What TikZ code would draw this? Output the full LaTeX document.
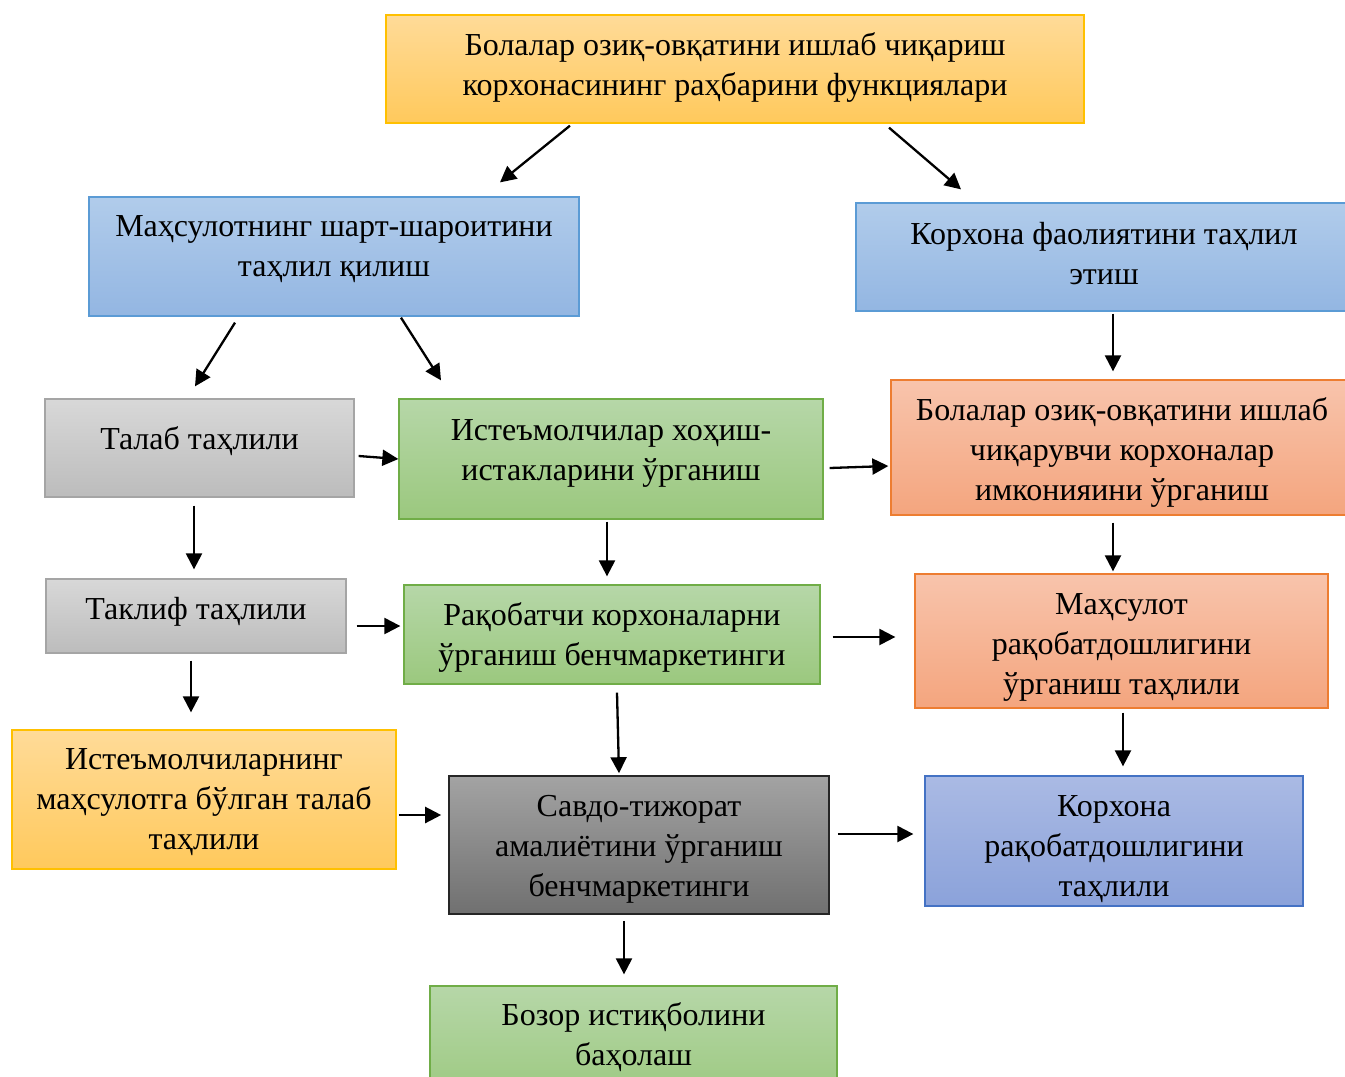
\documentclass[tikz,border=0pt]{standalone}
\usepackage{fontspec}
\setmainfont{Liberation Serif}
\usetikzlibrary{arrows.meta,calc}

\definecolor{orTop}{HTML}{FFDB98}
\definecolor{orBot}{HTML}{FFC95C}
\definecolor{orLine}{HTML}{FFC000}
\definecolor{blTop}{HTML}{B1CCEB}
\definecolor{blBot}{HTML}{93B6E2}
\definecolor{blLine}{HTML}{5B9BD5}
\definecolor{grTop}{HTML}{D8D8D8}
\definecolor{grBot}{HTML}{BCBCBC}
\definecolor{grLine}{HTML}{A5A5A5}
\definecolor{gnTop}{HTML}{B6D7A8}
\definecolor{gnBot}{HTML}{9BC87E}
\definecolor{gnLine}{HTML}{70AD47}
\definecolor{saTop}{HTML}{F8C4AC}
\definecolor{saBot}{HTML}{F4A57E}
\definecolor{saLine}{HTML}{ED7D31}
\definecolor{dgTop}{HTML}{A3A3A3}
\definecolor{dgBot}{HTML}{707070}
\definecolor{dgLine}{HTML}{262626}
\definecolor{pbTop}{HTML}{AABAE4}
\definecolor{pbBot}{HTML}{8BA2DA}
\definecolor{pbLine}{HTML}{4472C4}

\tikzset{
  x=1pt, y=-1pt,
  box/.style={rectangle, inner sep=0pt, line width=1.3pt},
  txt/.style={align=center, inner sep=0pt, text=black,
    font=\fontsize{32}{40}\selectfont},
  orbox/.style={box, top color=orTop, bottom color=orBot, draw=orLine},
  blbox/.style={box, top color=blTop, bottom color=blBot, draw=blLine},
  grbox/.style={box, top color=grTop, bottom color=grBot, draw=grLine},
  gnbox/.style={box, top color=gnTop, bottom color=gnBot, draw=gnLine},
  sabox/.style={box, top color=saTop, bottom color=saBot, draw=saLine},
  dgbox/.style={box, top color=dgTop, bottom color=dgBot, draw=dgLine, line width=1.6pt},
  pbbox/.style={box, top color=pbTop, bottom color=pbBot, draw=pbLine},
  wh/.style 2 args={minimum width=#1, minimum height=#2},
  arr/.style={line width=2.3pt, -{Triangle[length=16pt,width=16pt]}},
}

\begin{document}
\begin{tikzpicture}
\useasboundingbox[fill=white] (0,0) rectangle (1345,1077);

% boxes
\node[orbox, wh={698pt}{108pt}] (top) at (735,69) {};
\node[blbox, wh={490pt}{119pt}] (mah) at (334,256.5) {};
\node[blbox, wh={496pt}{108pt}] (kor) at (1104,257) {};
\node[grbox, wh={309pt}{98pt}]  (tal) at (199.5,448) {};
\node[gnbox, wh={424pt}{120pt}] (ist) at (611,459) {};
\node[sabox, wh={462pt}{135pt}] (sal) at (1122,447.5) {};
\node[grbox, wh={300pt}{74pt}]  (tak) at (196,616) {};
\node[gnbox, wh={416pt}{99pt}]  (raq) at (612,634.5) {};
\node[sabox, wh={413pt}{134pt}] (mhs) at (1121.5,641) {};
\node[orbox, wh={384pt}{139pt}] (ism) at (204,799.5) {};
\node[dgbox, wh={380pt}{138pt}] (sav) at (639,845) {};
\node[pbbox, wh={378pt}{130pt}] (krr) at (1114,841) {};
\node[gnbox, wh={407pt}{119pt}] (boz) at (633.5,1045.5) {};

% box texts
\node[txt] (topT) at ([yshift=2pt]top.center)
  {Болалар озиқ-овқатини ишлаб чиқариш\\корхонасининг раҳбарини функциялари};
\node[txt] (mahT) at ([yshift=7pt]mah.center)
  {Маҳсулотнинг шарт-шароитини\\таҳлил қилиш};
\node[txt] (korT) at ([yshift=3.5pt]kor.center)
  {Корхона фаолиятини таҳлил\\этиш};
\node[txt] (talT) at ([yshift=7pt]tal.center) {Талаб таҳлили};
\node[txt] (istT) at ([yshift=6pt]ist.center)
  {Истеъмолчилар хоҳиш-\\истакларини ўрганиш};
\node[txt] (salT) at ([yshift=-5pt]sal.center)
  {Болалар озиқ-овқатини ишлаб\\чиқарувчи корхоналар\\имконияини ўрганиш};
\node[txt] (takT) at ([yshift=4pt]tak.center) {Таклиф таҳлили};
\node[txt] (raqT) at ([yshift=-3pt]raq.center)
  {Рақобатчи корхоналарни\\ўрганиш бенчмаркетинги};
\node[txt] (mhsT) at ([yshift=-6pt]mhs.center)
  {Маҳсулот\\рақобатдошлигини\\ўрганиш таҳлили};
\node[txt] (ismT) at ([yshift=-3pt]ism.center)
  {Истеъмолчиларнинг\\маҳсулотга бўлган талаб\\таҳлили};
\node[txt] (savT) at ([yshift=-4pt]sav.center)
  {Савдо-тижорат\\амалиётини ўрганиш\\бенчмаркетинги};
\node[txt] (krrT) at ([yshift=-8pt]krr.center)
  {Корхона\\рақобатдошлигини\\таҳлили};
\node[txt] (bozT) at ([yshift=8pt]boz.center)
  {Бозор истиқболини\\баҳолаш};

% connectors
\draw[arr] ($(top.south)+(-165,2)$) -- ($(mah.north)+(166,-14)$);
\draw[arr] ($(top.south)+(154,4)$) -- ($(kor.north)+(-143,-13)$);
\draw[arr] ($(mah.south)+(-99,6)$) -- ($(tal.north)+(-4.5,-12)$);
\draw[arr] ($(mah.south)+(67,1)$) -- ($(ist.north)+(-170,-18)$);
\draw[arr] ($(kor.south)+(9,2)$) -- ($(sal.north)+(-9,-8)$);
\draw[arr] ($(tal.east)+(4,8)$) -- ($(ist.west)+(0,0)$);
\draw[arr] ($(ist.east)+(6,9)$) -- ($(sal.west)+(-2,18.5)$);
\draw[arr] ($(tal.south)+(-5.5,8)$) -- ($(tak.north)+(-2,-9)$);
\draw[arr] ($(ist.south)+(-4,2)$) -- ($(raq.north)+(-5,-8)$);
\draw[arr] ($(sal.south)+(-9,7)$) -- ($(mhs.north)+(-8.5,-2)$);
\draw[arr] ($(tak.east)+(10,10)$) -- ($(raq.west)+(-3,-8.5)$);
\draw[arr] ($(raq.east)+(12,2.5)$) -- ($(mhs.west)+(-19,-4)$);
\draw[arr] ($(tak.south)+(-5,7)$) -- ($(ism.north)+(-13,-17)$);
\draw[arr] ($(raq.south)+(5,8)$) -- ($(sav.north)+(-20,-2)$);
\draw[arr] ($(mhs.south)+(1.5,4)$) -- ($(krr.north)+(9,-9)$);
\draw[arr] ($(ism.east)+(2,15.5)$) -- ($(sav.west)+(-7,-30)$);
\draw[arr] ($(sav.east)+(8,-11)$) -- ($(krr.west)+(-11,-7)$);
\draw[arr] ($(sav.south)+(-15,6)$) -- ($(boz.north)+(-9.5,-11)$);
\end{tikzpicture}
\end{document}
